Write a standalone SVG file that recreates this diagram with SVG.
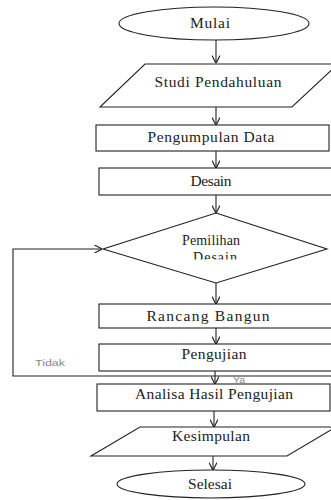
<svg xmlns="http://www.w3.org/2000/svg" width="331" height="500" viewBox="0 0 331 500">
<style>
.s{fill:#fff;stroke:#222;stroke-width:1.1}
.t{font-family:"Liberation Serif","Times New Roman",serif;font-size:15.5px;fill:#222;text-anchor:middle}
.d{font-size:14px}
.l{font-family:"Liberation Sans",Arial,sans-serif;font-size:9px;fill:#888}
.c{fill:none;stroke:#222;stroke-width:1.1;marker-end:url(#ah)}
</style>
<defs>
<marker id="ah" viewBox="0 0 10 10" refX="9.5" refY="5" markerWidth="8" markerHeight="8" markerUnits="userSpaceOnUse" orient="auto">
<path d="M0,0 L10,5 L0,10" fill="none" stroke="#222" stroke-width="1.5"/>
</marker>
<clipPath id="dclip"><rect x="100" y="250" width="231" height="9.5"/></clipPath>
</defs>
<rect width="331" height="500" fill="#fff"/>
<g id="connectors">
<line class="c" x1="216" y1="40" x2="216" y2="63"/>
<line class="c" x1="216" y1="107" x2="216" y2="125"/>
<line class="c" x1="216" y1="151" x2="216" y2="168"/>
<line class="c" x1="216" y1="195" x2="216" y2="213"/>
<line class="c" x1="216" y1="283" x2="216" y2="304"/>
<line class="c" x1="216" y1="328" x2="216" y2="344"/>
<line class="c" x1="215" y1="371" x2="215" y2="384"/>
<line class="c" x1="214" y1="411" x2="214" y2="427"/>
<line class="c" x1="213" y1="456" x2="213" y2="470"/>
<polyline class="c" points="331,376 13,376 13,249 102,249"/>
<text class="l" x="35" y="366" textLength="30" lengthAdjust="spacingAndGlyphs">Tidak</text>
<text class="l" x="233" y="383" textLength="12" lengthAdjust="spacingAndGlyphs">Ya</text>
</g>
<g id="mulai">
<ellipse class="s" cx="214" cy="23.5" rx="95" ry="16.5"/>
<text class="t" x="210" y="28" textLength="40">Mulai</text>
</g>
<g id="studi">
<polygon class="s" points="145,64 338,64 292,107 100,107"/>
<text class="t" x="218" y="87" textLength="127">Studi Pendahuluan</text>
</g>
<g id="pengumpulan">
<rect class="s" x="96" y="125" width="233" height="26"/>
<text class="t" x="211" y="142" textLength="127">Pengumpulan Data</text>
</g>
<g id="desain">
<rect class="s" x="99" y="168" width="240" height="27"/>
<text class="t" x="211" y="186" textLength="41">Desain</text>
</g>
<g id="pemilihan">
<polygon class="s" points="216,213 327,249 216,283 103,249"/>
<text class="t d" x="211" y="245" textLength="58">Pemilihan</text>
<text class="t d" x="215" y="262" textLength="44" clip-path="url(#dclip)">Desain</text>
</g>
<g id="rancang">
<rect class="s" x="99" y="304" width="240" height="24"/>
<text class="t" x="208" y="321" textLength="123">Rancang Bangun</text>
</g>
<g id="pengujian">
<rect class="s" x="99" y="344" width="240" height="27"/>
<text class="t" x="214" y="359" textLength="65">Pengujian</text>
</g>
<g id="analisa">
<rect class="s" x="97" y="384" width="233" height="27"/>
<text class="t" x="214" y="399" textLength="158">Analisa Hasil Pengujian</text>
</g>
<g id="kesimpulan">
<polygon class="s" points="140,427 336,427 287,456 91,456"/>
<text class="t" x="211" y="441" textLength="78">Kesimpulan</text>
</g>
<g id="selesai">
<ellipse class="s" cx="211" cy="484" rx="94" ry="14"/>
<text class="t" x="210" y="489" textLength="44">Selesai</text>
</g>
</svg>
